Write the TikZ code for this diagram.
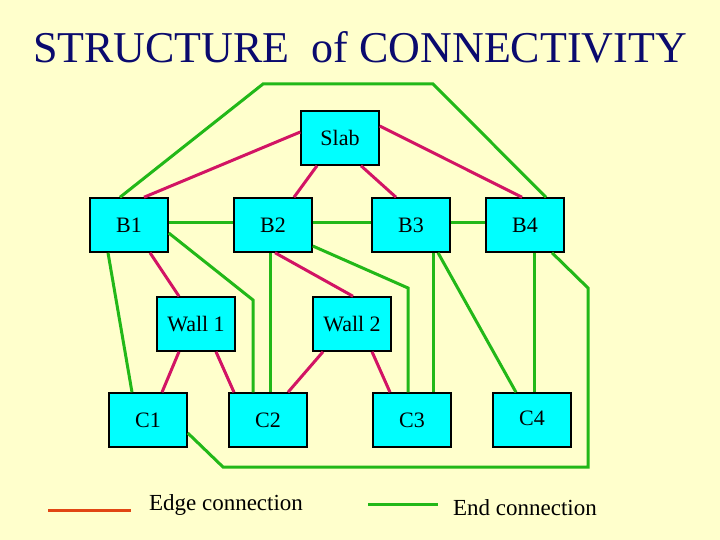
\documentclass[tikz,border=0pt]{standalone}
\usepackage{fontspec}
\setmainfont{Liberation Serif}
\definecolor{bgc}{RGB}{255,255,204}
\definecolor{boxc}{RGB}{0,255,255}
\definecolor{redc}{RGB}{210,20,100}
\definecolor{grc}{RGB}{34,184,24}
\definecolor{titc}{RGB}{10,10,110}
\definecolor{legred}{RGB}{225,70,20}
\begin{document}
\begin{tikzpicture}[x=1pt,y=-1pt,
  box/.style={draw=black,line width=1.5pt,fill=boxc,minimum width=78pt,minimum height=54pt,inner sep=0pt,font=\fontsize{22}{22}\selectfont},
  edge/.style={draw=redc,line width=3pt},
  endc/.style={draw=grc,line width=3pt}]
\fill[bgc] (0,0) rectangle (720,540);
\node[text=titc,font=\fontsize{44}{44}\selectfont] (title) at (360,47) {STRUCTURE\ \ of CONNECTIVITY};
\node[box] (Slab) at (340,138) {Slab};
\node[box] (B1) at (129,225) {B1};
\node[box] (B2) at (273,225) {B2};
\node[box] (B3) at (411,225) {B3};
\node[box] (B4) at (525,225) {B4};
\node[box] (W1) at (196,324) {Wall 1};
\node[box] (W2) at (352,324) {Wall 2};
\node[box] (C1) at (148,420) {C1};
\node[box] (C2) at (268,420) {C2};
\node[box] (C3) at (412,420) {\raisebox{-4pt}{C3}};
\node[box] (C4) at (532,420) {\raisebox{4pt}{C4}};
% edge connections
\draw[edge] (Slab.west |- 0,132) -- (B1.north -| 144,0);
\draw[edge] (Slab.east |- 0,126) -- (B4.north -| 522,0);
\draw[edge] (Slab.south -| 317,0) -- (B2.north -| 294,0);
\draw[edge] (Slab.south -| 361,0) -- (B3.north -| 396,0);
\draw[edge] (B1.south -| 150,0) -- (W1.north -| 179,0);
\draw[edge] (B2.south -| 275,0) -- (W2.north -| 353,0);
\draw[edge] (W1.south -| 179,0) -- (C1.north -| 162,0);
\draw[edge] (W1.south -| 216,0) -- (C2.north -| 234,0);
\draw[edge] (W2.south -| 323,0) -- (C2.north -| 288,0);
\draw[edge] (W2.south -| 372,0) -- (C3.north -| 390,0);
% end connections
\draw[endc] (B1.north -| 120,0) -- (263,84) -- (433,84) -- (B4.north -| 546,0);
\draw[endc] (B1.east |- 0,223) -- (B2.west |- 0,223);
\draw[endc] (B2.east |- 0,223) -- (B3.west |- 0,223);
\draw[endc] (B3.east |- 0,223) -- (B4.west |- 0,223);
\draw[endc] (B1.east |- 0,233) -- (253,300) -- (C2.north -| 253,0);
\draw[endc] (B2.south -| 270,0) -- (C2.north -| 270,0);
\draw[endc] (B2.east |- 0,246) -- (408,288) -- (C3.north -| 408,0);
\draw[endc] (B3.south -| 433,0) -- (C3.north -| 433,0);
\draw[endc] (B3.south -| 438,0) -- (C4.north -| 516,0);
\draw[endc] (B4.south -| 534,0) -- (C4.north -| 534,0);
\draw[endc] (B4.south -| 552,0) -- (588,288) -- (588,467) -- (223,467) -- (C1.east |- 0,433);
\draw[endc] (B1.south -| 108,0) -- (C1.north -| 132,0);
% legend
\coordinate (l1a) at (48,510); \coordinate (l1b) at (131,510);
\draw[line width=3pt,draw=legred] (l1a) -- (l1b);
\node[font=\fontsize{23}{23}\selectfont] (t1) at (226,505) {Edge connection};
\coordinate (l2a) at (368,504); \coordinate (l2b) at (438,504);
\draw[endc] (l2a) -- (l2b);
\node[font=\fontsize{23}{23}\selectfont] (t2) at (525,508) {End connection};
\end{tikzpicture}
\end{document}
